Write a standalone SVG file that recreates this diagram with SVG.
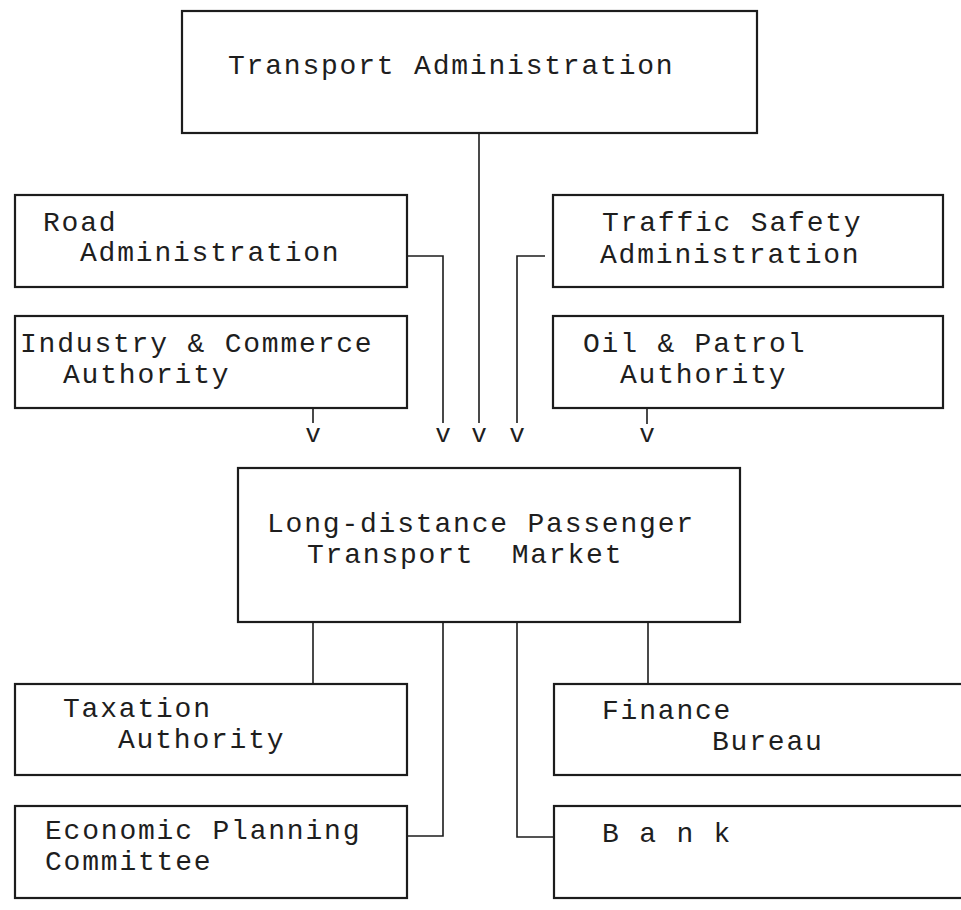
<svg xmlns="http://www.w3.org/2000/svg" width="961" height="910" viewBox="0 0 961 910">
  <style>
    .box { fill: #ffffff; stroke: #1c1c1c; stroke-width: 2.2; }
    .link { fill: none; stroke: #1c1c1c; stroke-width: 1.6; }
    .label { font-family: "Courier New", "Liberation Mono", "DejaVu Sans Mono", monospace; font-size: 28px; letter-spacing: 1.8px; fill: #1e1e1e; white-space: pre; }
    .head { font-family: "Courier New", "Liberation Mono", "DejaVu Sans Mono", monospace; font-size: 26px; fill: #1e1e1e; text-anchor: middle; }
  </style>
  <rect x="0" y="0" width="961" height="910" fill="#ffffff"/>

  <!-- connectors -->
  <g id="connectors">
    <!-- feeds into the market -->
    <path class="link" d="M479,133 V423"/>
    <path class="link" d="M407,256 H443 V423"/>
    <path class="link" d="M545,256 H517 V423"/>
    <path class="link" d="M313,408 V423"/>
    <path class="link" d="M647,408 V424"/>
    <text class="head" x="313" y="442">v</text>
    <text class="head" x="443" y="442">v</text>
    <text class="head" x="479" y="442">v</text>
    <text class="head" x="517" y="442">v</text>
    <text class="head" x="647" y="442">v</text>
    <!-- links out of the market -->
    <path class="link" d="M313,622 V684"/>
    <path class="link" d="M443,622 V836 H407"/>
    <path class="link" d="M517,622 V837 H554"/>
    <path class="link" d="M648,622 V684"/>
  </g>

  <g id="transport-administration">
    <rect class="box" x="182" y="11" width="575" height="122"/>
    <text class="label" x="228" y="74">Transport Administration</text>
  </g>

  <g id="road-administration">
    <rect class="box" x="15" y="195" width="392" height="92"/>
    <text class="label" x="43" y="231">Road</text>
    <text class="label" x="80" y="261">Administration</text>
  </g>

  <g id="industry-commerce">
    <rect class="box" x="15" y="316" width="392" height="92"/>
    <text class="label" x="20" y="352">Industry &amp; Commerce</text>
    <text class="label" x="63" y="383">Authority</text>
  </g>

  <g id="traffic-safety">
    <rect class="box" x="553" y="195" width="390" height="92"/>
    <text class="label" x="602" y="231">Traffic Safety</text>
    <text class="label" x="600" y="263">Administration</text>
  </g>

  <g id="oil-patrol">
    <rect class="box" x="553" y="316" width="390" height="92"/>
    <text class="label" x="583" y="352">Oil &amp; Patrol</text>
    <text class="label" x="620" y="383">Authority</text>
  </g>

  <g id="passenger-market">
    <rect class="box" x="238" y="468" width="502" height="154"/>
    <text class="label" x="267" y="532">Long-distance Passenger</text>
    <text class="label" x="307" y="563">Transport  Market</text>
  </g>

  <g id="taxation">
    <rect class="box" x="15" y="684" width="392" height="91"/>
    <text class="label" x="63" y="717">Taxation</text>
    <text class="label" x="118" y="748">Authority</text>
  </g>

  <g id="economic-planning">
    <rect class="box" x="15" y="806" width="392" height="92"/>
    <text class="label" x="45" y="839">Economic Planning</text>
    <text class="label" x="45" y="870">Committee</text>
  </g>

  <g id="finance">
    <rect class="box" x="554" y="684" width="420" height="91"/>
    <text class="label" x="602" y="719">Finance</text>
    <text class="label" x="712" y="750">Bureau</text>
  </g>

  <g id="bank">
    <rect class="box" x="554" y="806" width="420" height="92"/>
    <text class="label" x="602" y="842">B a n k</text>
  </g>
</svg>
